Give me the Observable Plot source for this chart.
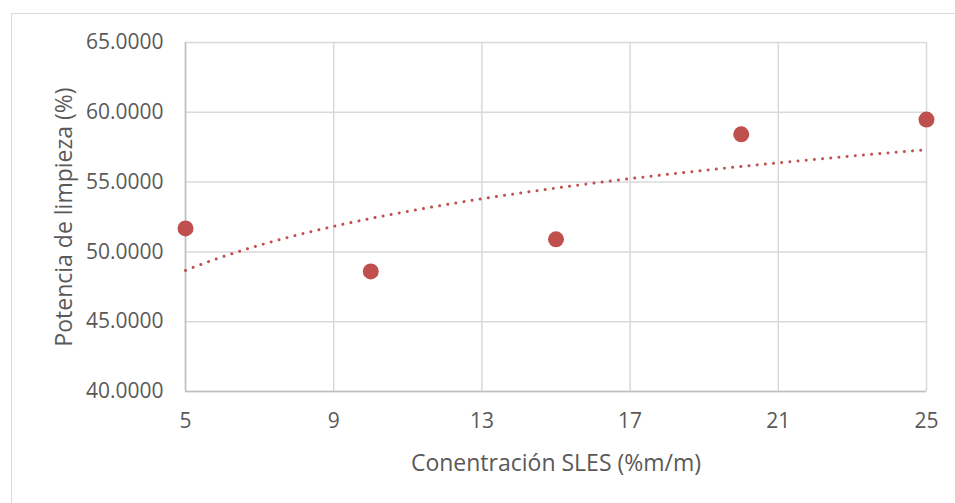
<!DOCTYPE html>
<html>
<head>
<meta charset="utf-8">
<script src="https://cdn.jsdelivr.net/npm/d3@7"></script>
<script src="https://cdn.jsdelivr.net/npm/@observablehq/plot@0.6"></script>
<style>
  html, body { margin: 0; padding: 0; background: #fff; }
  #wrap { position: relative; width: 955px; height: 503px; overflow: hidden; }
  #frame { position: absolute; left: 11px; top: 13px; width: 960px; height: 500px;
           border-top: 1.5px solid #d9d9d9; border-left: 1.5px solid #d9d9d9; box-sizing: border-box; }
  #chart { position: absolute; left: 0; top: 0; }
</style>
</head>
<body>
<div id="wrap"><div id="frame"></div><div id="chart"></div></div>
<script>
// Data
const concentration = [5, 10, 15, 20, 25];
const potencia = [51.68, 48.60, 50.90, 58.42, 59.48];
const xTicks = [5, 9, 13, 17, 21, 25];
const yTicks = [40, 45, 50, 55, 60, 65];
const xTitle = "Conentración SLES (%m/m)";
const yTitle = "Potencia de limpieza (%)";

const points = concentration.map((x, i) => ({x, y: potencia[i]}));

// Logarithmic trendline (least squares y = a + b ln x) computed from the data
const lx = concentration.map(Math.log);
const mx = d3.mean(lx), my = d3.mean(potencia);
const b = d3.sum(lx.map((v, i) => (v - mx) * (potencia[i] - my))) / d3.sum(lx.map(v => (v - mx) ** 2));
const a = my - b * mx;
const xMin = d3.min(concentration), xMax = d3.max(concentration);
const trend = d3.range(0, 201).map(i => {
  const x = xMin + (xMax - xMin) * i / 200;
  return {x, y: a + b * Math.log(x)};
});

const red = "#C0504D";
const chart = Plot.plot({
  width: 955,
  height: 503,
  marginLeft: 185,
  marginRight: 29,
  marginTop: 42,
  marginBottom: 112,
  style: {fontFamily: "'Open Sans', sans-serif", fontSize: "21px", color: "#595959", background: "transparent"},
  x: {domain: [5, 25], ticks: xTicks, tickSize: 0, tickPadding: 22, label: null},
  y: {domain: [40, 65], ticks: yTicks, tickSize: 0, tickPadding: 22, label: null, tickFormat: d => d.toFixed(4)},
  marks: [
    Plot.gridX(xTicks, {stroke: "#d9d9d9", strokeOpacity: 1, strokeWidth: 1.5}),
    Plot.gridY(yTicks, {stroke: "#d9d9d9", strokeOpacity: 1, strokeWidth: 1.5}),
    Plot.ruleX([5], {stroke: "#bfbfbf", strokeWidth: 1.5}),
    Plot.ruleY([40], {stroke: "#bfbfbf", strokeWidth: 1.5}),
    Plot.axisX({ticks: xTicks, tickSize: 0, tickPadding: 22, fontSize: 21, label: null}),
    Plot.axisY({ticks: yTicks, tickSize: 0, tickPadding: 22, fontSize: 21, label: null, tickFormat: d => d.toFixed(4)}),
    Plot.line(trend, {x: "x", y: "y", stroke: red, strokeWidth: 3, strokeDasharray: "0.01 8.2", strokeLinecap: "round"}),
    Plot.dot(points, {x: "x", y: "y", r: 8, fill: red, stroke: "none"}),
    Plot.text([yTitle], {frameAnchor: "left", dx: -121, rotate: -90, textAnchor: "middle", lineAnchor: "middle", fontSize: 23, fill: "#595959"}),
    Plot.text([xTitle], {frameAnchor: "bottom", dy: 72, textAnchor: "middle", lineAnchor: "middle", fontSize: 23, fill: "#595959"})
  ]
});
document.getElementById("chart").appendChild(chart);
</script>
</body>
</html>
